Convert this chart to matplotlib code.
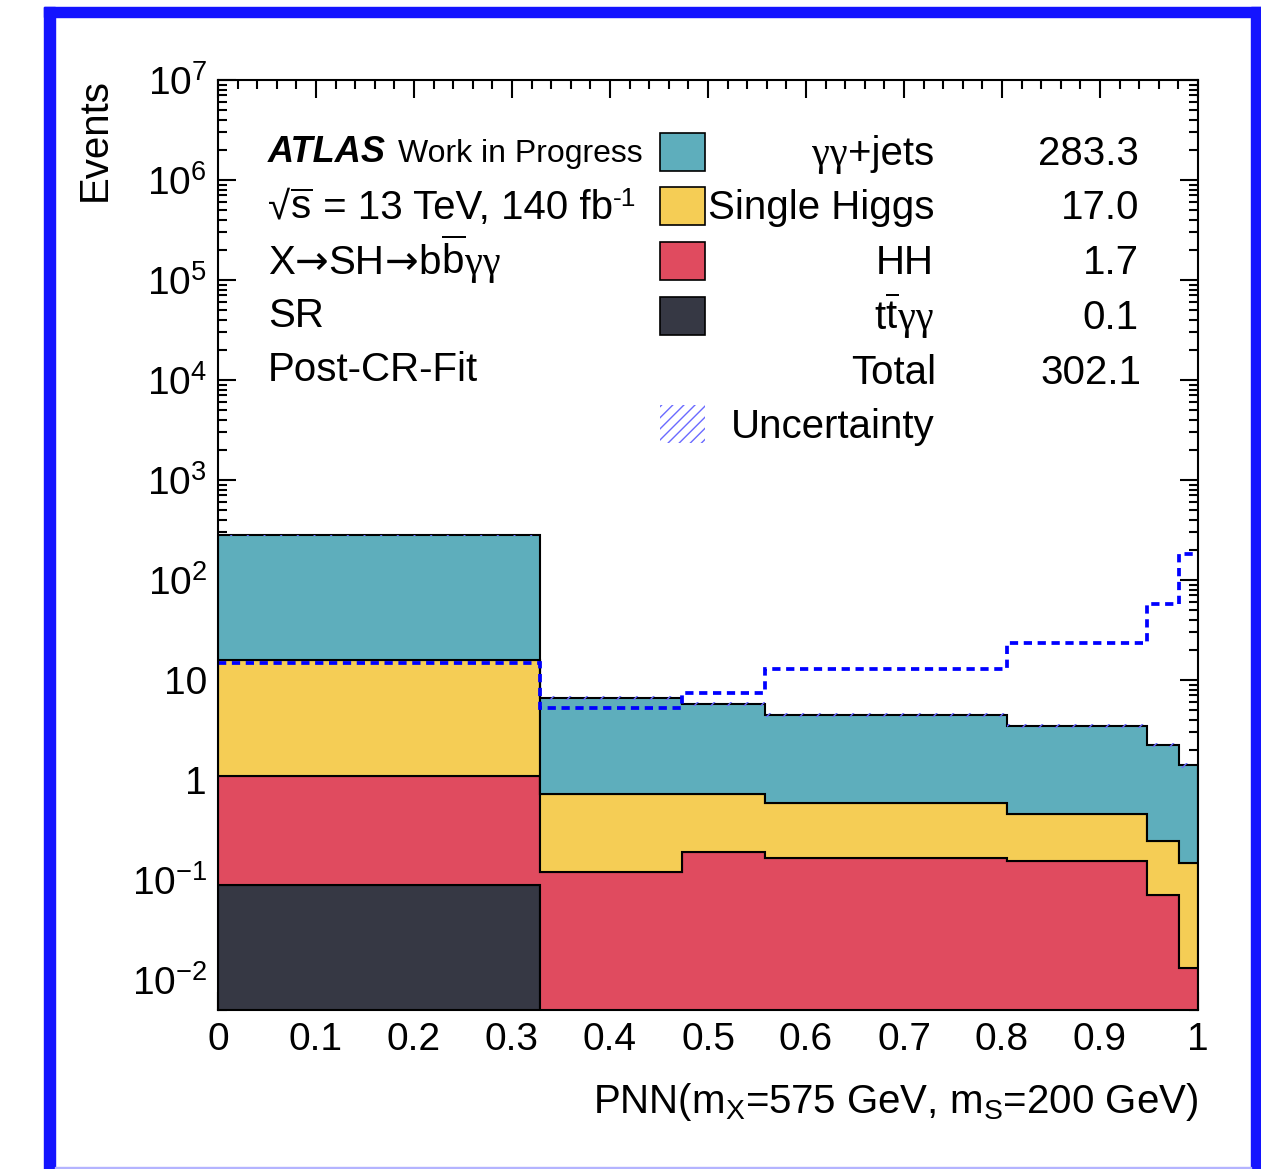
import numpy as np
import matplotlib
matplotlib.use("Agg")
import matplotlib.pyplot as plt
from matplotlib.patches import Rectangle
from matplotlib.transforms import IdentityTransform
from matplotlib.ticker import MultipleLocator, LogLocator, FixedLocator, FuncFormatter, NullFormatter

plt.rcParams['font.family'] = ['Liberation Sans', 'DejaVu Sans']
plt.rcParams['mathtext.fontset'] = 'custom'
plt.rcParams['mathtext.rm'] = 'Liberation Sans'
plt.rcParams['mathtext.it'] = 'Liberation Sans:italic'
plt.rcParams['mathtext.bf'] = 'Liberation Sans:bold'
plt.rcParams['mathtext.default'] = 'regular'
plt.rcParams['hatch.linewidth'] = 1.0

# PNN bin edges and per-bin yields
edges = [0.0, 0.329, 0.473, 0.558, 0.805, 0.948, 0.981, 1.0]
ttyy = [0.088, 0.0, 0.0, 0.0, 0.0, 0.0, 0.0]
hh = [1.0, 0.120, 0.190, 0.165, 0.154, 0.071, 0.0132]
single_h = [14.6, 0.595, 0.541, 0.425, 0.304, 0.173, 0.136]
yy_jets = [262.8, 5.89, 5.03, 3.91, 2.98, 1.98, 1.25]
bkg_unc = [6.0, 0.30, 0.25, 0.20, 0.15, 0.10, 0.07]
signal = [14.8, 5.25, 7.41, 12.8, 23.4, 57.4, 182.8]

names = ['γγ+jets', 'Single Higgs', 'HH', 'tt\u0304γγ']
yields = ['283.3', '17.0', '1.7', '0.1']
total_yield = '302.1'
colors = ['#5eaebc', '#f5cd55', '#e04b5f', '#363844']
hatch_col = '#6a6aff'

W, H = 1261, 1169
fig = plt.figure(figsize=(W / 100, H / 100), dpi=100)
renderer = fig.canvas.get_renderer()


def fx(x):
    return x / W


def fy(y):
    return 1 - y / H


def split_runs(s, size):
    """Break a label into runs: greek in a serif face, arrows in DejaVu, barred letters as overlines."""
    runs = []
    i = 0
    while i < len(s):
        ch = s[i]
        if i + 1 < len(s) and s[i + 1] == '\u0304':
            runs.append([r'$\overline{\mathrm{%s}}$' % ch, 'Liberation Sans', size, 0])
            i += 2
            continue
        if ch == 'γ':
            fam = 'Liberation Serif'
        elif ch == '→':
            fam = 'DejaVu Sans'
        else:
            fam = 'Liberation Sans'
        if runs and runs[-1][1] == fam and not runs[-1][0].startswith('$'):
            runs[-1][0] += ch
        else:
            runs.append([ch, fam, size, 0])
        i += 1
    return runs


def rich(runs, x, y, ha='left', **kw):
    # place the runs one after another on a common baseline (pixel coords, y from top)
    texts = []
    cur = 0.0
    for s, fam, size, dy in runs:
        t = fig.text(cur, H - y + dy, s, fontsize=size, family=[fam, 'DejaVu Sans'],
                     va='baseline', ha='left', transform=IdentityTransform(), **kw)
        w = t.get_window_extent(renderer).width
        texts.append((t, cur, dy))
        cur += w
    shift = x - cur if ha == 'right' else x
    for t, x0, dy in texts:
        t.set_position((x0 + shift, H - y + dy))


# blue frame around the canvas
frame = '#1414ff'
fig.patches.append(Rectangle((fx(44), 0), fx(11), fy(7),
                             transform=fig.transFigure, color=frame, zorder=0))
fig.patches.append(Rectangle((fx(44), fy(17)), fx(1261 - 44), 10 / H,
                             transform=fig.transFigure, color=frame, zorder=0))
fig.patches.append(Rectangle((fx(1251), 0), fx(10), fy(7),
                             transform=fig.transFigure, color=frame, zorder=0))
fig.patches.append(Rectangle((fx(55), 0), fx(1196), 2 / H,
                             transform=fig.transFigure, color='#b4b4ff', zorder=0))

ax = fig.add_axes([fx(218), fy(1010), fx(1198 - 218), (1010 - 80) / H])

# stacked backgrounds
base = np.full(len(yy_jets), 1e-4)
for vals, c in zip([ttyy, hh, single_h, yy_jets], colors[::-1]):
    top = base + np.array(vals)
    ax.stairs(top, edges, baseline=base.copy(), fill=True, facecolor=c,
              edgecolor='black', linewidth=1.5, zorder=2)
    base = top
total = base

ax.stairs(total + np.array(bkg_unc), edges, baseline=total - np.array(bkg_unc),
          fill=True, facecolor='none', edgecolor=hatch_col, hatch='//',
          linewidth=0, zorder=3)

ax.stairs(signal, edges, baseline=None, color='#0000ff', linewidth=2.7,
          linestyle=(0, (2.2, 1.5)), zorder=4)

ax.set_xlim(0, 1)
ax.set_yscale('log')
ax.set_ylim(0.005, 1e7)

ax.xaxis.set_major_locator(MultipleLocator(0.1))
ax.xaxis.set_minor_locator(MultipleLocator(0.02))
ax.xaxis.set_major_formatter(FuncFormatter(lambda v, p: '%g' % round(v, 2)))
ax.yaxis.set_major_locator(FixedLocator([10.0 ** e for e in range(-2, 8)]))
ax.yaxis.set_minor_locator(LogLocator(base=10, subs=np.arange(2, 10), numticks=200))
ax.yaxis.set_minor_formatter(NullFormatter())


def ylab(v, pos):
    e = int(round(np.log10(v)))
    if e == 0:
        return '1'
    if e == 1:
        return '10'
    return r'$10^{%d}$' % e


ax.yaxis.set_major_formatter(FuncFormatter(ylab))
ax.tick_params(which='both', direction='in', top=True, right=True, width=1.5,
               labelsize=28)
ax.tick_params(which='major', length=13)
ax.tick_params(which='minor', length=6.5)
ax.tick_params(axis='x', pad=9)
ax.tick_params(axis='y', pad=8)
for s in ax.spines.values():
    s.set_linewidth(1.5)
    s.set_zorder(5)

fig.text(fx(95), fy(78), 'Events', rotation=90, ha='center', va='top', fontsize=29)
fig.text(fx(1198), fy(1113), r'PNN(m$_{X}$=575 GeV, m$_{S}$=200 GeV)',
         ha='right', va='baseline', fontsize=29)

# labels in the upper left
fig.text(fx(268), fy(162), 'ATLAS', fontsize=26, fontweight='bold',
         fontstyle='italic', va='baseline')
fig.text(fx(398), fy(162), 'Work in Progress', fontsize=23, va='baseline')
rich([['√', 'Liberation Sans', 29, 0],
      [r'$\overline{\mathrm{s}}$', 'Liberation Sans', 29, 0],
      [' = 13 TeV, 140 fb', 'Liberation Sans', 29, 0],
      ['-1', 'Liberation Sans', 19, 13]], 268, 219)
rich(split_runs('X→SH→bb\u0304γγ', 29), 268, 274)
fig.text(fx(268), fy(327), 'SR', fontsize=29, va='baseline')
fig.text(fx(268), fy(381), 'Post-CR-Fit', fontsize=29, va='baseline')

# yield table legend
row_y = [152, 206, 261, 316]
for i, (nm, yl, c) in enumerate(zip(names, yields, colors)):
    yc = row_y[i]
    fig.patches.append(Rectangle((fx(660), fy(yc + 19)), fx(45), 38 / H,
                                 transform=fig.transFigure, facecolor=c,
                                 edgecolor='black', linewidth=1.2, zorder=6))
    rich(split_runs(nm, 29), 934, yc + 13, ha='right')
    fig.text(fx(1139), fy(yc + 13), yl, fontsize=29, ha='right', va='baseline')
fig.text(fx(936), fy(384), 'Total', fontsize=29, ha='right', va='baseline')
fig.text(fx(1141), fy(384), total_yield, fontsize=29, ha='right', va='baseline')
fig.patches.append(Rectangle((fx(660), fy(443)), fx(45), 38 / H,
                             transform=fig.transFigure, facecolor='none',
                             edgecolor=hatch_col, hatch='///', linewidth=0, zorder=6))
fig.text(fx(934), fy(438), 'Uncertainty', fontsize=29, ha='right', va='baseline')

fig.savefig('out.png', dpi=100)
